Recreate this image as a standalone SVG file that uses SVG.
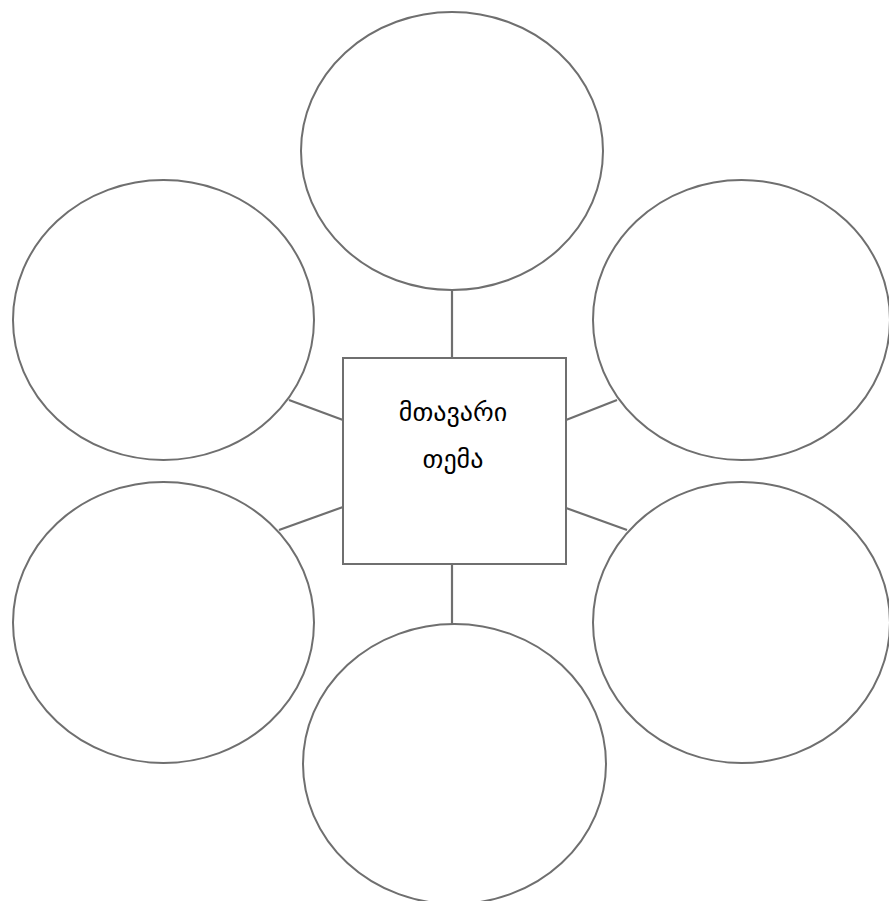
<svg xmlns="http://www.w3.org/2000/svg" width="889" height="901" viewBox="0 0 889 901">
<style>
.n{fill:#fff;stroke:#6f6f6f;stroke-width:2}
.c{stroke:#6f6f6f;stroke-width:2.2;fill:none}
.t{font-family:"DejaVu Sans","Noto Sans",sans-serif;font-size:26px;fill:#000;text-anchor:middle}
</style>
<rect width="889" height="901" fill="#fff"/>
<g id="connectors">
<line class="c" x1="452" y1="290" x2="452" y2="358"/>
<line class="c" x1="452" y1="564" x2="452" y2="624"/>
<line class="c" x1="289" y1="400" x2="343" y2="420"/>
<line class="c" x1="279" y1="530" x2="343" y2="507"/>
<line class="c" x1="566" y1="420" x2="617" y2="400"/>
<line class="c" x1="566" y1="508" x2="627" y2="530"/>
</g>
<g id="top"><ellipse class="n" cx="452" cy="151" rx="151" ry="139"/></g>
<g id="upper-left"><ellipse class="n" cx="163.5" cy="320" rx="150.5" ry="140"/></g>
<g id="upper-right"><ellipse class="n" cx="741.5" cy="320" rx="148.5" ry="140"/></g>
<g id="lower-left"><ellipse class="n" cx="163.5" cy="622.5" rx="150.5" ry="140.5"/></g>
<g id="lower-right"><ellipse class="n" cx="741.5" cy="622.5" rx="148.5" ry="140.5"/></g>
<g id="bottom"><ellipse class="n" cx="454.5" cy="764" rx="151.5" ry="140"/></g>
<g id="center">
<rect class="n" x="343" y="358" width="223" height="206"/>
<text class="t" x="453" y="421">მთავარი</text>
<text class="t" x="453" y="468">თემა</text>
</g>
</svg>
